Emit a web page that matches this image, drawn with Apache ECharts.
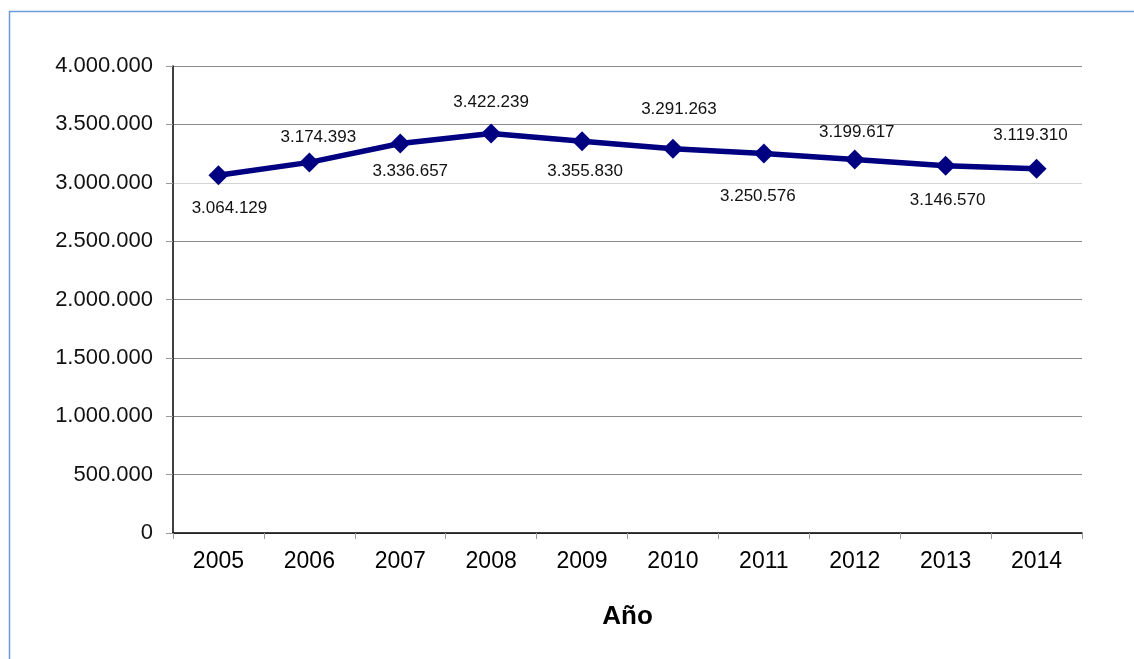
<!DOCTYPE html>
<html>

<head>
    <meta charset="utf-8">
    <title>Año</title>
    <style>
        html, body { margin: 0; padding: 0; background: #fff; }
    </style>
</head>

<body>
    <div id="chart" style="width: 1134px;height: 659px;"></div>

    <script src="https://cdn.jsdelivr.net/npm/echarts@6/dist/echarts.min.js"></script>
    <script>
        const chart = echarts.init(document.getElementById('chart'));

        // años
        const years = ['2005', '2006', '2007', '2008', '2009', '2010', '2011', '2012', '2013', '2014'];
        // valores
        const values = [3064129, 3174393, 3336657, 3422239, 3355830, 3291263, 3250576, 3199617, 3146570, 3119310];
        // eje y
        const yTicks = [0, 500000, 1000000, 1500000, 2000000, 2500000, 3000000, 3500000, 4000000];

        // ajuste fino de las etiquetas (px), solo estilo
        const labelNudge = [[11, 4], [9, 4], [10, -2], [0, -2], [3, 1], [6, -10], [-6, 13], [2, 2], [2, 5], [-6, -4]];

        function fmt(v) {
            return String(v).replace(/\B(?=(\d{3})+(?!\d))/g, '.');
        }

        // etiquetas alternadas abajo / arriba
        const data = values.map((v, i) => ({
            value: v,
            label: {
                position: i % 2 === 0 ? 'bottom' : 'top',
                distance: 11,
                offset: labelNudge[i]
            }
        }));

        // la linea de 3.000.000 sale mas clara
        const gridColors = yTicks.map(v => v === 3000000 ? '#d4d4d4' : '#8a8a8a');

        const option = {
            backgroundColor: '#fff',
            animation: false,
            textStyle: { fontFamily: 'Liberation Sans, Arial, sans-serif' },
            graphic: [{
                type: 'rect',
                shape: { x: 9.5, y: 11.5, width: 1140, height: 700 },
                style: { fill: null, stroke: '#6b9bd9', lineWidth: 1.5 },
                silent: true
            }],
            grid: { left: 173, right: 52, top: 66, bottom: 126 },
            xAxis: {
                type: 'category',
                data: years,
                boundaryGap: true,
                name: 'Año',
                nameLocation: 'middle',
                nameGap: 71,
                nameTextStyle: { fontSize: 26, fontWeight: 'bold', color: '#000' },
                axisLine: { lineStyle: { color: '#000', width: 1.5 } },
                axisTick: { show: true, length: 6, lineStyle: { color: '#999' } },
                axisLabel: { fontSize: 23, color: '#000', margin: 17 },
                splitLine: { show: false }
            },
            yAxis: {
                type: 'value',
                min: 0,
                max: 4000000,
                interval: 500000,
                axisLine: { show: true, lineStyle: { color: '#000', width: 1.5 } },
                axisTick: { show: true, length: 7, lineStyle: { color: '#999' } },
                axisLabel: { fontSize: 22, color: '#111', margin: 20, formatter: fmt },
                splitLine: { show: true, lineStyle: { color: gridColors, width: 1.2 } }
            },
            series: [{
                type: 'line',
                data: data,
                symbol: 'diamond',
                symbolSize: 20,
                lineStyle: { color: '#000080', width: 5.5 },
                itemStyle: { color: '#000080' },
                label: {
                    show: true,
                    fontSize: 17,
                    color: '#111',
                    formatter: p => fmt(p.value)
                }
            }]
        };
        chart.setOption(option);
    </script>

</body>

</html>
